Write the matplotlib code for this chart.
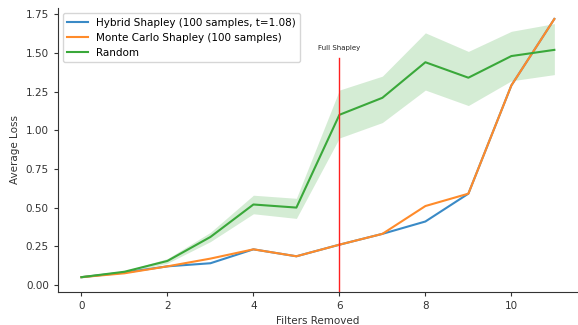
import matplotlib
matplotlib.use("Agg")
import matplotlib.pyplot as plt
import numpy as np

filters = list(range(12))
hybrid = [0.05, 0.08, 0.12, 0.14, 0.23, 0.185, 0.26, 0.33, 0.41, 0.59, 1.29, 1.72]
monte_carlo = [0.05, 0.075, 0.12, 0.17, 0.23, 0.185, 0.26, 0.33, 0.51, 0.59, 1.29, 1.72]
random_mean = [0.05, 0.085, 0.155, 0.31, 0.52, 0.50, 1.10, 1.21, 1.44, 1.34, 1.48, 1.52]
random_low = [0.045, 0.08, 0.14, 0.28, 0.46, 0.43, 0.95, 1.05, 1.26, 1.16, 1.32, 1.36]
random_high = [0.055, 0.09, 0.17, 0.34, 0.58, 0.56, 1.26, 1.35, 1.63, 1.51, 1.64, 1.69]
full_shapley_x = 6

fig = plt.figure(figsize=(5.78, 3.25), dpi=100)
ax = fig.add_axes([0.10, 0.102, 0.90, 0.873])

c_blue, c_orange, c_green = "#3a8ac6", "#ff8b2a", "#3aa83a"
ax.plot(filters, hybrid, color=c_blue, lw=1.5, label="Hybrid Shapley (100 samples, t=1.08)")
ax.plot(filters, monte_carlo, color=c_orange, lw=1.5, label="Monte Carlo Shapley (100 samples)")
ax.plot(filters, random_mean, color=c_green, lw=1.5, label="Random")
ax.fill_between(filters, random_low, random_high, color="#2ca02c", alpha=0.2, lw=0)

ax.set_xlim(-0.55, 11.55)
ax.set_ylim(-0.045, 1.79)
ax.axvline(full_shapley_x, ymin=0, ymax=(1.47 + 0.045) / (1.79 + 0.045), color="#ff2020", lw=1.0)
ax.text(full_shapley_x, 1.51, "Full Shapley", ha="center", va="bottom", fontsize=5, color="#222222")

ax.set_xticks([0, 2, 4, 6, 8, 10])
ax.set_yticks([0.0, 0.25, 0.5, 0.75, 1.0, 1.25, 1.5, 1.75])
ax.tick_params(labelsize=7.5, colors="#333333", length=3)
ax.set_xlabel("Filters Removed", fontsize=7.5, color="#333333")
ax.set_ylabel("Average Loss", fontsize=7.5, color="#333333")
for s in ["top", "right"]:
    ax.spines[s].set_visible(False)
for s in ["left", "bottom"]:
    ax.spines[s].set_color("#333333")

ax.legend(loc="upper left", fontsize=7.5, frameon=True, handlelength=2.0)
fig.savefig("out.png", dpi=100)
